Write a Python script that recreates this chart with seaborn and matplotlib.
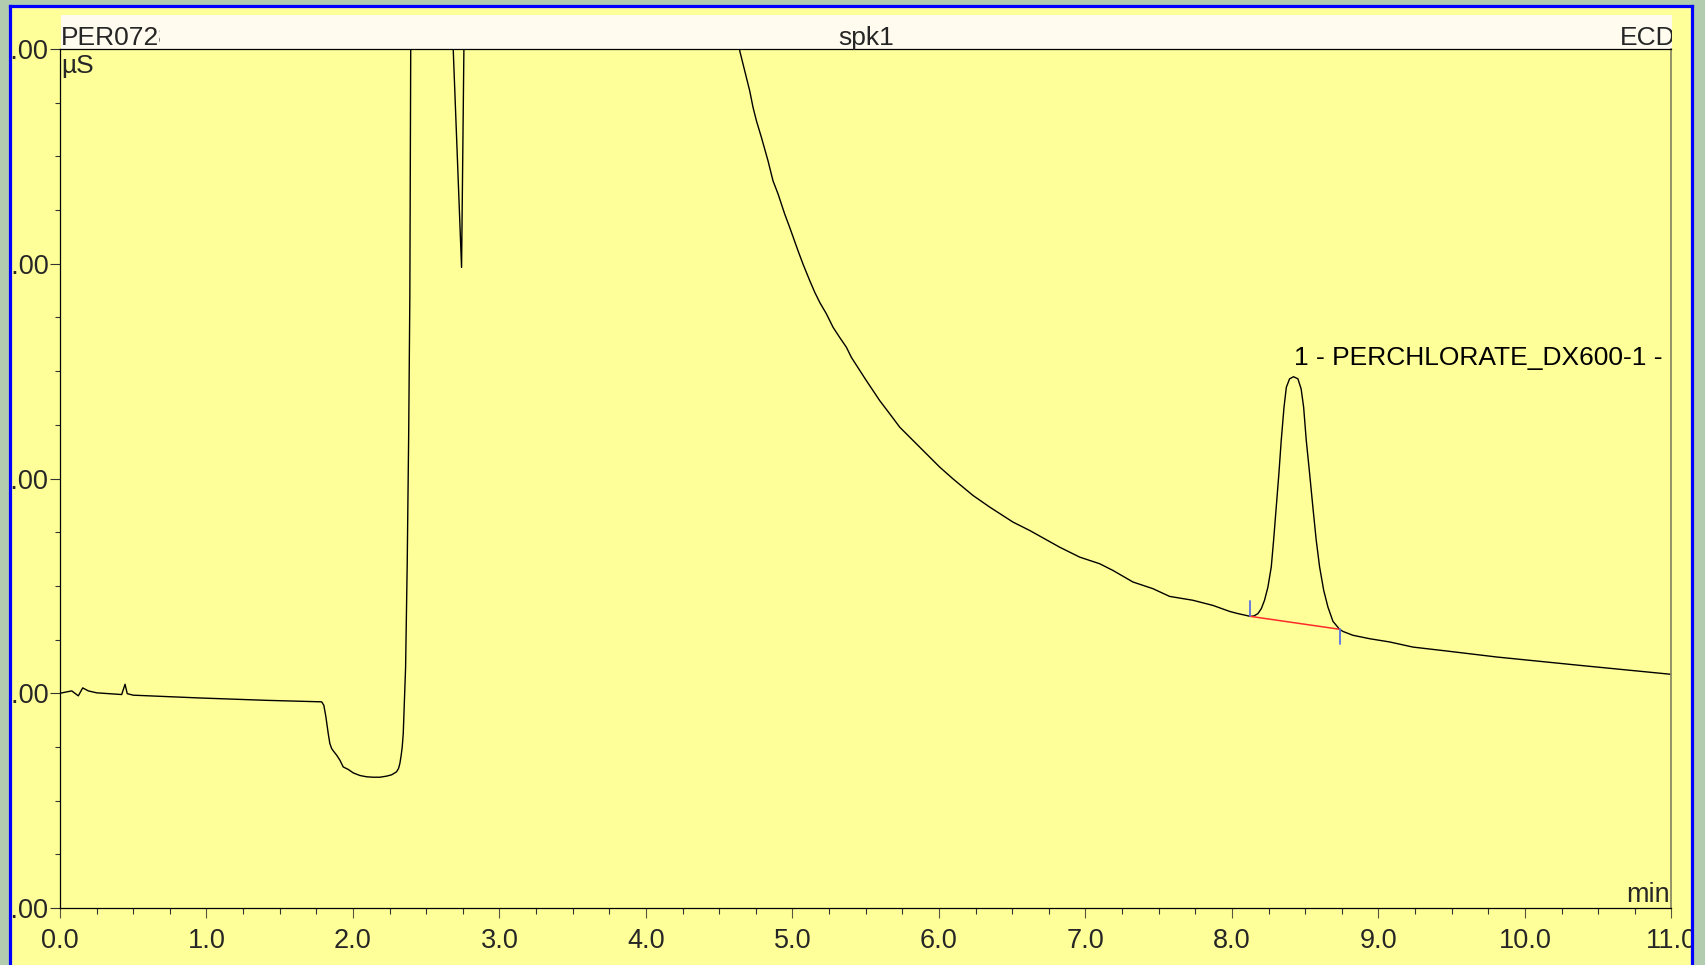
import numpy as np
import pandas as pd
import matplotlib
matplotlib.use("Agg")
import matplotlib.pyplot as plt
from matplotlib.patches import Rectangle
from matplotlib.lines import Line2D
from matplotlib.ticker import MultipleLocator, FormatStrFormatter
import seaborn as sns

# ---- chromatogram trace (retention time in min, conductivity in µS) ----
time = [0.000, 0.080, 0.125, 0.155, 0.193, 0.250, 0.421, 0.444, 0.459, 0.500,
        0.955, 1.410, 1.786, 1.801, 1.815, 1.831, 1.842, 1.854, 1.865, 1.888,
        1.911, 1.933, 1.968, 2.002, 2.047, 2.093, 2.138, 2.184, 2.229, 2.263,
        2.297, 2.311, 2.320, 2.329, 2.336, 2.343, 2.347, 2.354, 2.359, 2.370,
        2.380, 2.388, 2.394, 2.400, 2.670, 2.684, 2.741, 2.757, 2.770, 4.600,
        4.640, 4.674, 4.708, 4.731, 4.754, 4.788, 4.833, 4.867, 4.902, 4.947,
        4.981, 5.038, 5.072, 5.118, 5.152, 5.186, 5.232, 5.277, 5.322, 5.368,
        5.402, 5.500, 5.595, 5.664, 5.732, 5.823, 5.891, 5.959, 6.005, 6.096,
        6.232, 6.346, 6.505, 6.619, 6.824, 6.960, 7.097, 7.187, 7.324, 7.460,
        7.574, 7.733, 7.870, 7.984, 8.040, 8.125, 8.150, 8.177, 8.200, 8.222,
        8.245, 8.268, 8.284, 8.302, 8.320, 8.336, 8.355, 8.371, 8.393, 8.420,
        8.450, 8.472, 8.489, 8.507, 8.530, 8.552, 8.575, 8.598, 8.626, 8.655,
        8.689, 8.734, 8.757, 8.825, 8.939, 9.075, 9.235, 9.462, 9.804, 10.372,
        11.000]
signal = [0.000, 0.011, -0.012, 0.025, 0.011, 0.002, -0.006, 0.042, -0.002, -0.009,
          -0.022, -0.033, -0.040, -0.056, -0.110, -0.188, -0.234, -0.257, -0.268, -0.288,
          -0.312, -0.343, -0.355, -0.371, -0.383, -0.389, -0.391, -0.391, -0.386, -0.380,
          -0.366, -0.350, -0.327, -0.288, -0.250, -0.188, -0.110, 0.014, 0.120, 0.600,
          1.200, 1.850, 3.000, 3.600, 3.600, 3.000, 1.983, 3.000, 3.600, 3.600,
          2.991, 2.898, 2.805, 2.727, 2.665, 2.588, 2.479, 2.386, 2.324, 2.231,
          2.169, 2.060, 1.998, 1.921, 1.867, 1.820, 1.766, 1.704, 1.657, 1.611,
          1.564, 1.460, 1.363, 1.301, 1.239, 1.177, 1.130, 1.084, 1.053, 0.998,
          0.921, 0.867, 0.797, 0.758, 0.680, 0.634, 0.603, 0.572, 0.518, 0.487,
          0.451, 0.433, 0.409, 0.381, 0.371, 0.358, 0.360, 0.371, 0.394, 0.433,
          0.494, 0.588, 0.712, 0.867, 1.022, 1.177, 1.332, 1.425, 1.464, 1.474,
          1.464, 1.417, 1.332, 1.177, 1.022, 0.867, 0.712, 0.588, 0.479, 0.401,
          0.335, 0.298, 0.288, 0.270, 0.254, 0.239, 0.215, 0.197, 0.169, 0.130,
          0.088]

# ---- integration of peak 1 ----
peak_name = "1 - PERCHLORATE_DX600-1 -"
peak_apex = (8.420, 1.474)
peak_start = (8.125, 0.358)
peak_end = (8.734, 0.298)
marker_height = 0.07

# ---- header / axis text ----
sample_id = "PER0728"
injection = "spk1"
detector = "ECD"
y_unit = "µS"
x_unit = "min"

df = pd.DataFrame({"time": time, "signal": signal})

sns.set_theme(style="white")
plt.rcParams['font.family'] = ['Liberation Sans', 'DejaVu Sans']

W, H = 1706, 965
fig = plt.figure(figsize=(W / 100, H / 100), dpi=100)
BG = '#B2CCB0'
fig.patch.set_facecolor(BG)


def fx(px):
    return px / W


def fy(py):
    return 1 - py / H


YELLOW = '#FFFF99'
BLUE = '#0000FF'
FS = 19.5

# yellow window panel
fig.add_artist(Rectangle((fx(10), -0.05), fx(1692 - 10), fy(6) + 0.05,
                         transform=fig.transFigure, facecolor=YELLOW,
                         edgecolor='none', zorder=-5))
# header strip
fig.add_artist(Rectangle((fx(61), fy(49)), fx(1672 - 61), (49 - 15) / H,
                         transform=fig.transFigure, facecolor='#FFFBEF',
                         edgecolor='none', zorder=-4))

ax = fig.add_axes([fx(60), fy(908), fx(1671.5 - 60), (908 - 49) / H])
ax.set_facecolor(YELLOW)

sns.lineplot(data=df, x="time", y="signal", sort=False, estimator=None,
             color='black', lw=1.0, ax=ax, legend=False)

# baseline of integrated peak and its delimiters
ax.plot([peak_start[0], peak_end[0]], [peak_start[1], peak_end[1]],
        color='#FF2A2A', lw=1.1)
ax.plot([peak_start[0], peak_start[0]],
        [peak_start[1], peak_start[1] + marker_height], color='#5A6EE6', lw=1.3)
ax.plot([peak_end[0], peak_end[0]],
        [peak_end[1], peak_end[1] - marker_height], color='#5A6EE6', lw=1.3)
ax.text(peak_apex[0], peak_apex[1] + 0.055, peak_name, ha='left', va='baseline',
        fontsize=19, color='black', clip_on=True)

ax.set_xlim(0, 11)
ax.set_ylim(-1, 3)
ax.set_xlabel("")
ax.set_ylabel("")
ax.xaxis.set_major_locator(MultipleLocator(1.0))
ax.xaxis.set_minor_locator(MultipleLocator(0.25))
ax.yaxis.set_major_locator(MultipleLocator(1.0))
ax.yaxis.set_minor_locator(MultipleLocator(0.25))
ax.xaxis.set_major_formatter(FormatStrFormatter('%.1f'))
ax.yaxis.set_major_formatter(FormatStrFormatter('%.2f'))
ax.tick_params(axis='x', which='major', direction='out', length=7.2, width=0.8,
               color='#555540', labelsize=FS, pad=7.0, bottom=True)
ax.tick_params(axis='x', which='minor', direction='out', length=4.3, width=0.8,
               color='#333333', bottom=True)
ax.tick_params(axis='y', which='major', direction='out', length=7.2, width=0.8,
               color='#333333', labelsize=FS, pad=0.8, left=True)
ax.tick_params(axis='y', which='minor', direction='out', length=3.6, width=0.8,
               color='#333333', left=True)

for side in ('left', 'bottom', 'top'):
    ax.spines[side].set_color('black')
    ax.spines[side].set_linewidth(0.9)
ax.spines['right'].set_color('#808060')
ax.spines['right'].set_linewidth(1.2)

ax.annotate(x_unit, xy=(1, 0), xycoords='axes fraction', xytext=(-1.5, 6),
            textcoords='offset pixels', ha='right', va='baseline', fontsize=FS)
ax.annotate(y_unit, xy=(0, 1), xycoords='axes fraction', xytext=(1, -5),
            textcoords='offset pixels', ha='left', va='top', fontsize=19)

# header texts
t1 = fig.text(fx(61), fy(45), sample_id, ha='left', va='baseline', fontsize=19)
t1.set_clip_path(Rectangle((fx(61), fy(49)), fx(160 - 61), (49 - 15) / H,
                           transform=fig.transFigure))
fig.text(fx(866), fy(45), injection, ha='center', va='baseline', fontsize=19)
t3 = fig.text(fx(1676), fy(45), detector, ha='right', va='baseline', fontsize=19)
t3.set_clip_path(Rectangle((fx(61), fy(49)), fx(1672 - 61), (49 - 15) / H,
                           transform=fig.transFigure))

# outer backdrop around the blue window frame
fig.add_artist(Rectangle((0, 0), fx(8.5), 1, transform=fig.transFigure,
                         facecolor=BG, edgecolor='none', zorder=10))
fig.add_artist(Rectangle((fx(1693.5), 0), 1, 1, transform=fig.transFigure,
                         facecolor=BG, edgecolor='none', zorder=10))
fig.add_artist(Rectangle((0, fy(4.5)), 1, 1, transform=fig.transFigure,
                         facecolor=BG, edgecolor='none', zorder=10))
frame_kw = dict(transform=fig.transFigure, color=BLUE, lw=2.3, zorder=11,
                solid_capstyle='projecting')
fig.add_artist(Line2D([fx(10), fx(10)], [-0.01, fy(6)], **frame_kw))
fig.add_artist(Line2D([fx(1692), fx(1692)], [-0.01, fy(6)], **frame_kw))
fig.add_artist(Line2D([fx(10), fx(1692)], [fy(6), fy(6)], **frame_kw))

fig.savefig("out.png", dpi=100, facecolor=fig.get_facecolor())
